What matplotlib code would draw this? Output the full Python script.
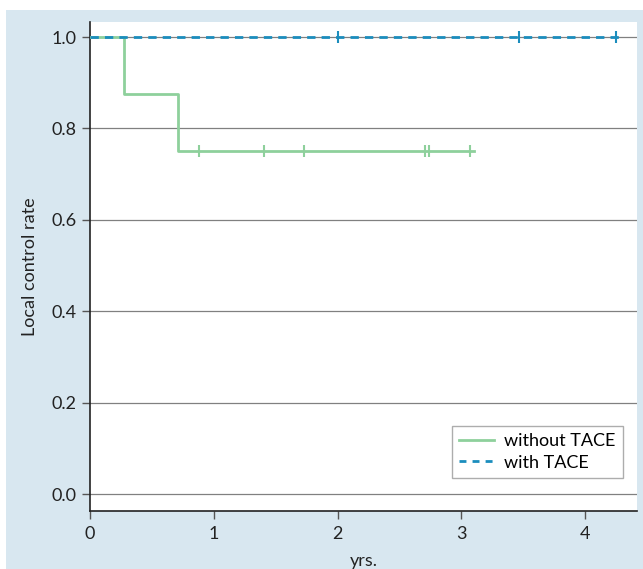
import matplotlib.pyplot as plt
from matplotlib.patches import Rectangle

plt.rcParams['font.family'] = ['Lato', 'DejaVu Sans']

# without TACE: step curve
no_tace_t = [0, 0.275, 0.71, 3.1]
no_tace_s = [1.0, 0.875, 0.75, 0.75]
no_tace_cens_t = [0.88, 1.41, 1.73, 2.71, 2.74, 3.07]
no_tace_cens_s = [0.75, 0.75, 0.75, 0.75, 0.75, 0.75]

# with TACE
tace_t = [0, 4.29]
tace_s = [1.0, 1.0]
tace_cens_t = [2.0, 3.47, 4.25]
tace_cens_s = [1.0, 1.0, 1.0]

GREEN = "#8ed09c"
BLUE = "#1b8dbd"
BG = "#d8e7f0"

fig = plt.figure(figsize=(6.43, 5.69), dpi=100)
fig.patch.set_facecolor("white")
fig.patches.append(Rectangle((6 / 643, 0), 1, 1 - 10 / 569, transform=fig.transFigure,
                             facecolor=BG, edgecolor="none", zorder=-10))
ax = fig.add_axes([90 / 643, 1 - 511 / 569, (637 - 90) / 643, (511 - 22) / 569])
ax.set_facecolor("white")

ax.step(no_tace_t, no_tace_s, where="post", color=GREEN, lw=2, label="without TACE", zorder=3)
ax.plot(no_tace_cens_t, no_tace_cens_s, ls="none", marker="|", ms=9, mew=1.5, color=GREEN, zorder=3)
ax.plot(tace_t, tace_s, color=BLUE, lw=2, ls=(0, (3, 2.2)), label="with TACE", zorder=4)
ax.plot(tace_cens_t, tace_cens_s, ls="none", marker="|", ms=9, mew=1.5, color=BLUE, zorder=4)

ax.set_xlim(0, 4.42)
ax.set_ylim(-0.037, 1.033)
ax.set_xticks([0, 1, 2, 3, 4])
ax.set_yticks([0.0, 0.2, 0.4, 0.6, 0.8, 1.0])
ax.set_yticklabels(["0.0", "0.2", "0.4", "0.6", "0.8", "1.0"])
ax.grid(axis="y", color="#808080", lw=0.9, zorder=0)
ax.set_axisbelow(True)
for s in ["top", "right"]:
    ax.spines[s].set_visible(False)
for s in ["left", "bottom"]:
    ax.spines[s].set_color("#222222")
    ax.spines[s].set_linewidth(1.2)
ax.tick_params(colors="#555555", labelcolor="#222222", labelsize=13, length=6, width=1)
ax.tick_params(axis="x", pad=5)
ax.set_ylabel("Local control rate", fontsize=13, color="#222222", labelpad=10)
ax.set_xlabel("yrs.", fontsize=13, color="#222222", labelpad=8)

leg = ax.legend(loc="lower right", fontsize=13, frameon=True, fancybox=False,
                edgecolor="#999999", borderaxespad=0, bbox_to_anchor=(623 / 643, 1 - 478 / 569),
                bbox_transform=fig.transFigure, handlelength=1.9, handletextpad=0.6,
                labelspacing=0.3)
leg.get_frame().set_linewidth(1)
for h in leg.get_lines():
    if h.get_label() == "with TACE":
        h.set_dashes((2.5, 2.2))

plt.savefig("out.png", dpi=100)
